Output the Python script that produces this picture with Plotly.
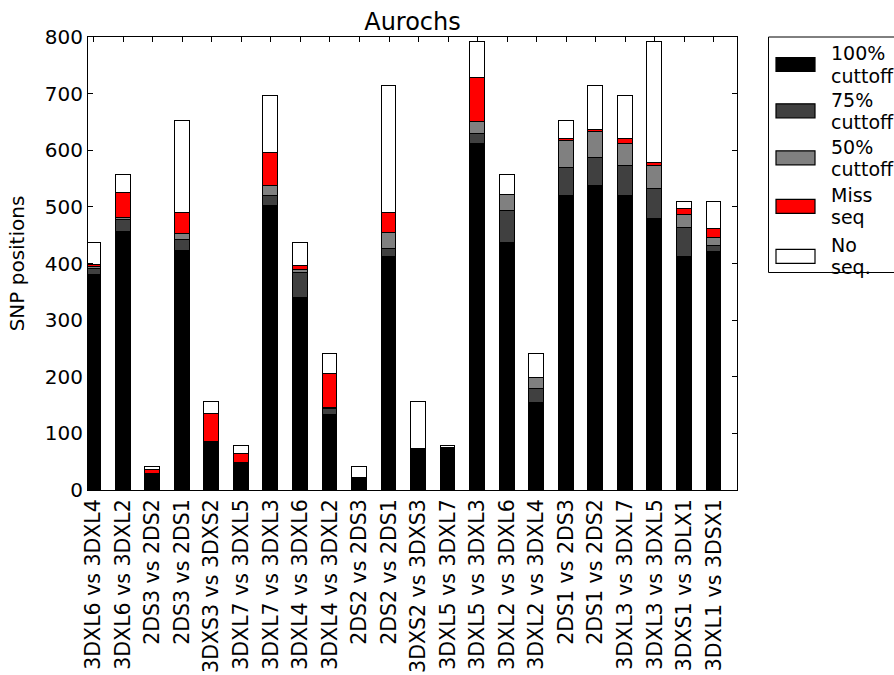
import plotly.graph_objects as go

# Pairwise comparisons (x categories)
comparisons = [
    "3DXL6 vs 3DXL4", "3DXL6 vs 3DXL2", "2DS3 vs 2DS2", "2DS3 vs 2DS1",
    "3DXS3 vs 3DXS2", "3DXL7 vs 3DXL5", "3DXL7 vs 3DXL3", "3DXL4 vs 3DXL6",
    "3DXL4 vs 3DXL2", "2DS2 vs 2DS3", "2DS2 vs 2DS1", "3DXS2 vs 3DXS3",
    "3DXL5 vs 3DXL7", "3DXL5 vs 3DXL3", "3DXL2 vs 3DXL6", "3DXL2 vs 3DXL4",
    "2DS1 vs 2DS3", "2DS1 vs 2DS2", "3DXL3 vs 3DXL7", "3DXL3 vs 3DXL5",
    "3DXS1 vs 3DLX1", "3DXL1 vs 3DSX1",
]

# SNP position counts per category (stacked bottom to top)
cutoff_100 = [380, 455, 26, 422, 84, 47, 502, 339, 133, 21, 412, 71, 72, 611, 436, 154, 520, 537, 519, 479, 411, 420]
cutoff_75 = [10, 22, 1, 20, 1, 0, 17, 44, 10, 0, 14, 1, 2, 18, 57, 24, 49, 49, 53, 52, 51, 11]
cutoff_50 = [3, 4, 1, 10, 0, 0, 18, 6, 2, 0, 28, 0, 1, 21, 28, 20, 48, 46, 39, 41, 24, 14]
miss_seq = [4, 44, 7, 37, 50, 17, 59, 7, 59, 0, 35, 0, 0, 77, 0, 0, 3, 4, 9, 6, 10, 16]
no_seq = [40, 31, 6, 163, 21, 13, 99, 41, 36, 20, 224, 84, 2, 64, 35, 42, 32, 77, 75, 213, 13, 48]

series_names = [("100%", "cuttoff"), ("75%", "cuttoff"), ("50%", "cuttoff"), ("Miss", "seq"), ("No", "seq.")]
series_values = [cutoff_100, cutoff_75, cutoff_50, miss_seq, no_seq]
series_colors = ["#000000", "#404040", "#808080", "#ff0000", "#ffffff"]

y_ticks = [0, 100, 200, 300, 400, 500, 600, 700, 800]

FONT = "DejaVu Sans"
W, H = 894, 675
L, R, T, B = 88, 157, 37, 185
PW, PH = W - L - R, H - T - B

x_idx = list(range(len(comparisons)))

fig = go.Figure()
for (l1, l2), vals, col in zip(series_names, series_values, series_colors):
    fig.add_trace(go.Bar(
        x=x_idx, y=vals, name=f"{l1} {l2}", width=0.5,
        marker=dict(color=col, line=dict(color="black", width=1.2)),
        showlegend=False,
    ))

# Legend drawn as paper-referenced shapes and text
def px_x(px):
    return (px - L) / PW

def px_y(py):
    return (H - B - py) / PH

shapes = [dict(type="rect", xref="paper", yref="paper",
               x0=px_x(768.5), x1=px_x(905), y0=px_y(272.5), y1=px_y(37),
               line=dict(color="black", width=1), fillcolor="white", layer="above")]
annotations = []
swatch_centers = [64.5, 110.8, 157.8, 206.3, 256.3]
for (l1, l2), col, cy in zip(series_names, series_colors, swatch_centers):
    shapes.append(dict(type="rect", xref="paper", yref="paper",
                       x0=px_x(776), x1=px_x(815), y0=px_y(cy + 7), y1=px_y(cy - 7),
                       line=dict(color="black", width=1.2), fillcolor=col, layer="above"))
    for txt, dy in ((l1, -11), (l2, 11)):
        annotations.append(dict(xref="paper", yref="paper", x=px_x(829), y=px_y(cy + dy),
                                xanchor="left", yanchor="middle", text=txt, showarrow=False,
                                align="left", font=dict(family=FONT, size=19, color="black")))

fig.update_layout(
    width=W, height=H,
    margin=dict(l=L, r=R, t=T, b=B, pad=0, autoexpand=False),
    paper_bgcolor="white", plot_bgcolor="white",
    barmode="stack", bargap=0,
    font=dict(family=FONT, size=20, color="black"),
    title=dict(text="Aurochs", x=0.5, xref="paper", xanchor="center",
               y=1, yref="paper", yanchor="bottom", pad=dict(b=7),
               font=dict(family=FONT, size=24, color="black")),
    shapes=shapes, annotations=annotations,
)

fig.update_xaxes(
    range=[-0.19, 21.78], tickmode="array", tickvals=x_idx, ticktext=comparisons,
    tickangle=-90, ticks="inside", ticklen=5, tickcolor="black", tickwidth=1,
    showline=True, linecolor="black", linewidth=1, mirror="ticks",
    showgrid=False, zeroline=False, automargin=False,
    tickfont=dict(family=FONT, size=20.5),
)
fig.update_yaxes(
    range=[0, 800], tickmode="array", tickvals=y_ticks,
    ticks="inside", ticklen=5, tickcolor="black", tickwidth=1,
    showline=True, linecolor="black", linewidth=1, mirror="ticks",
    showgrid=False, zeroline=False, automargin=False,
    tickfont=dict(family=FONT, size=20),
    title=dict(text="SNP positions", standoff=14, font=dict(family=FONT, size=20)),
)

fig.write_html("out.html")
